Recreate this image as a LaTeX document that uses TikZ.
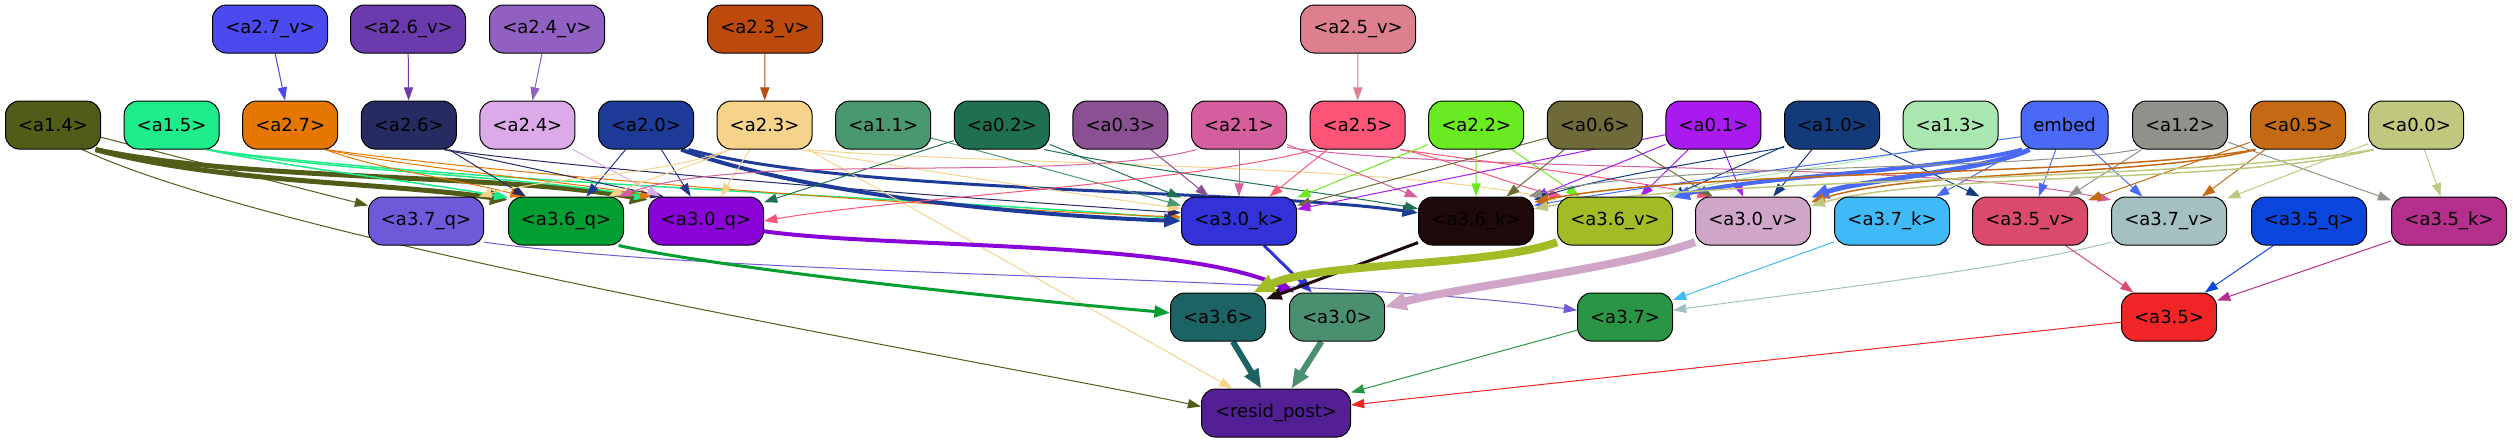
\documentclass[tikz,border=0pt]{standalone}
\usepackage{fontspec}
\setmainfont{DejaVu Sans}
\usetikzlibrary{arrows.meta}
\pgfdeclarelayer{bg}
\pgfsetlayers{bg,main}
\definecolor{ca27v}{HTML}{4A4AEE}\definecolor{ca26v}{HTML}{6B3AAC}\definecolor{ca24v}{HTML}{9060C2}
\definecolor{ca23v}{HTML}{BC4A0C}\definecolor{ca25v}{HTML}{DC808E}
\definecolor{ca14}{HTML}{525C18}\definecolor{ca15}{HTML}{1EEB8A}\definecolor{ca27}{HTML}{E57600}
\definecolor{ca26}{HTML}{262B62}\definecolor{ca24}{HTML}{DCAAE8}\definecolor{ca20}{HTML}{1F3B98}
\definecolor{ca23}{HTML}{F5D38A}\definecolor{ca11}{HTML}{4A9870}\definecolor{ca02}{HTML}{1E7050}
\definecolor{ca03}{HTML}{8A5092}\definecolor{ca21}{HTML}{D45F9C}\definecolor{ca25}{HTML}{FC5577}
\definecolor{ca22}{HTML}{6AEA20}\definecolor{ca06}{HTML}{6E6A3A}\definecolor{ca01}{HTML}{A81AEE}
\definecolor{ca10}{HTML}{133A7A}\definecolor{ca13}{HTML}{A8E8B0}\definecolor{cemb}{HTML}{4A6AF5}
\definecolor{ca12}{HTML}{8E928A}\definecolor{ca05}{HTML}{C46A14}\definecolor{ca00}{HTML}{C0C880}
\definecolor{ca37q}{HTML}{6E5AD8}\definecolor{ca36q}{HTML}{029E32}\definecolor{ca30q}{HTML}{8A04D8}
\definecolor{ca30k}{HTML}{3232D8}\definecolor{ca36k}{HTML}{1E0A0A}\definecolor{ca36v}{HTML}{A2BC28}
\definecolor{ca30v}{HTML}{D0A6C8}\definecolor{ca37k}{HTML}{40BAF6}\definecolor{ca35v}{HTML}{DA4A6A}
\definecolor{ca37v}{HTML}{A4C0C0}\definecolor{ca35q}{HTML}{0A46DC}\definecolor{ca35k}{HTML}{B4308C}
\definecolor{ca36}{HTML}{1C6464}\definecolor{ca30}{HTML}{4A9070}\definecolor{ca37}{HTML}{2A9645}
\definecolor{ca35}{HTML}{F02626}\definecolor{cres}{HTML}{522094}
\begin{document}
\begin{tikzpicture}[x=0.08pt,y=-0.08pt,
  nd/.style={draw=black, line width=0.08pt, rounded corners=1.12pt, minimum height=3.84pt, inner sep=0pt, text=black, font=\fontsize{1.44pt}{1.7pt}\selectfont},
  sn/.style={nd, minimum width=7.6pt},
  ln/.style={nd, minimum width=9.2pt},
  w1/.style={line width=0.12pt},
  w3/.style={line width=0.24pt},
  w4/.style={line width=0.32pt},
  w5/.style={line width=0.4pt},
  w6/.style={line width=0.48pt},
  w8/.style={line width=0.64pt},
  e/.style={draw=#1, line width=0.08pt, -{Triangle[length=0.96pt 1.2, width=0.64pt 1.2]}}]
\useasboundingbox (0,0) rectangle (2513,443);
% row 1
\node[ln,fill=ca27v] (a27v) at (270,29) {<a2.7\_v>};
\node[ln,fill=ca26v] (a26v) at (408,29) {<a2.6\_v>};
\node[ln,fill=ca24v] (a24v) at (547,29) {<a2.4\_v>};
\node[ln,fill=ca23v] (a23v) at (765,29) {<a2.3\_v>};
\node[ln,fill=ca25v] (a25v) at (1358,29) {<a2.5\_v>};
% row 2
\node[sn,fill=ca14] (a14) at (53,125) {<a1.4>};
\node[sn,fill=ca15] (a15) at (171.6,125) {<a1.5>};
\node[sn,fill=ca27] (a27) at (290.2,125) {<a2.7>};
\node[sn,fill=ca26] (a26) at (408.8,125) {<a2.6>};
\node[sn,fill=ca24] (a24) at (527.4,125) {<a2.4>};
\node[sn,fill=ca20] (a20) at (646,125) {<a2.0>};
\node[sn,fill=ca23] (a23) at (764.6,125) {<a2.3>};
\node[sn,fill=ca11] (a11) at (883.2,125) {<a1.1>};
\node[sn,fill=ca02] (a02) at (1001.8,125) {<a0.2>};
\node[sn,fill=ca03] (a03) at (1120.4,125) {<a0.3>};
\node[sn,fill=ca21] (a21) at (1239,125) {<a2.1>};
\node[sn,fill=ca25] (a25) at (1357.6,125) {<a2.5>};
\node[sn,fill=ca22] (a22) at (1476.2,125) {<a2.2>};
\node[sn,fill=ca06] (a06) at (1594.8,125) {<a0.6>};
\node[sn,fill=ca01] (a01) at (1713.4,125) {<a0.1>};
\node[sn,fill=ca10] (a10) at (1832,125) {<a1.0>};
\node[sn,fill=ca13] (a13) at (1950.6,125) {<a1.3>};
\node[nd,minimum width=6.96pt,fill=cemb] (emb) at (2064.5,125) {embed};
\node[sn,fill=ca12] (a12) at (2180,125) {<a1.2>};
\node[sn,fill=ca05] (a05) at (2298,125) {<a0.5>};
\node[sn,fill=ca00] (a00) at (2416,125) {<a0.0>};
% row 3
\node[ln,fill=ca37q] (a37q) at (426,221) {<a3.7\_q>};
\node[ln,fill=ca36q] (a36q) at (566,221) {<a3.6\_q>};
\node[ln,fill=ca30q] (a30q) at (706,221) {<a3.0\_q>};
\node[ln,fill=ca30k] (a30k) at (1239,221) {<a3.0\_k>};
\node[ln,fill=ca36k] (a36k) at (1476,221) {<a3.6\_k>};
\node[ln,fill=ca36v] (a36v) at (1615,221) {<a3.6\_v>};
\node[ln,fill=ca30v] (a30v) at (1753,221) {<a3.0\_v>};
\node[ln,fill=ca37k] (a37k) at (1892,221) {<a3.7\_k>};
\node[ln,fill=ca35v] (a35v) at (2030,221) {<a3.5\_v>};
\node[ln,fill=ca37v] (a37v) at (2169,221) {<a3.7\_v>};
\node[ln,fill=ca35q] (a35q) at (2309,221) {<a3.5\_q>};
\node[ln,fill=ca35k] (a35k) at (2449,221) {<a3.5\_k>};
% row 4
\node[sn,fill=ca36] (a36) at (1218,317) {<a3.6>};
\node[sn,fill=ca30] (a30) at (1337,317) {<a3.0>};
\node[sn,fill=ca37] (a37) at (1625,317) {<a3.7>};
\node[sn,fill=ca35] (a35) at (2169,317) {<a3.5>};
\node[nd,minimum width=11.92pt,fill=cres] (resid) at (1276,413) {<resid\_post>};
\begin{pgfonlayer}{bg}
% row1 -> row2
\draw[e=ca27v] (a27v) -- (a27);
\draw[e=ca26v] (a26v) -- (a26);
\draw[e=ca24v] (a24v) -- (a24);
\draw[e=ca23v] (a23v) -- (a23);
\draw[e=ca25v] (a25v) -- (a25);
% a1.4
\draw[e=ca14] (a14) -- (a37q.165);
\draw[e=ca14, w5] (a14.-30) to[out=-15,in=172,looseness=0.8] (a36q.160);
\draw[e=ca14, w5] (a14.-30) to[out=-12,in=170,looseness=0.7] (a30q.160);
\draw[e=ca14] (a14.-40) to[out=-25,in=168,looseness=0.5] (resid.175);
% a1.5
\draw[e=ca15, w1] (a15.-35) to[out=-12,in=170,looseness=0.8] (a36q.158);
\draw[e=ca15, w1] (a15.-35) to[out=-10,in=170,looseness=0.7] (a30q.158);
\draw[e=ca15, w1] (a15.-35) to[out=-8,in=175,looseness=0.6] (a30k.178);
% a2.7
\draw[e=ca27] (a27.-35) to[out=-20,in=165,looseness=0.8] (a36q.150);
\draw[e=ca27] (a27.-35) to[out=-12,in=170,looseness=0.7] (a30q.155);
\draw[e=ca27] (a27.-35) to[out=-8,in=178,looseness=0.6] (a30k.176);
% a2.6
\draw[e=ca26] (a26) -- (a36q);
\draw[e=ca26] (a26.-35) to[out=-12,in=168,looseness=0.7] (a30q.150);
\draw[e=ca26] (a26.-35) to[out=-8,in=176,looseness=0.6] (a30k.172);
% a2.4
\draw[e=ca24] (a24) -- (a30q);
% a2.0
\draw[e=ca20] (a20) -- (a36q);
\draw[e=ca20] (a20) -- (a30q);
\draw[e=ca20, w4] (a20.-35) to[out=-20,in=178,looseness=0.7] (a30k.180);
\draw[e=ca20, w3] (a20.-30) to[out=-15,in=172,looseness=0.6] (a36k.172);
% a2.3
\draw[e=ca23] (a23.215) to[out=200,in=15,looseness=0.8] (a37q.25);
\draw[e=ca23] (a23.215) to[out=205,in=25,looseness=0.8] (a36q.30);
\draw[e=ca23] (a23) -- (a30q);
\draw[e=ca23] (a23.-35) to[out=-10,in=172,looseness=0.7] (a30k.168);
\draw[e=ca23] (a23.-30) to[out=-5,in=168,looseness=0.6] (a36v.160);
\draw[e=ca23] (a23) -- (resid);
% a1.1, a0.2, a0.3
\draw[e=ca11] (a11) -- (a30k.165);
\draw[e=ca02] (a02) -- (a30q);
\draw[e=ca02] (a02) -- (a30k);
\draw[e=ca02] (a02.-30) to[out=-12,in=170,looseness=0.6] (a36k.168);
\draw[e=ca03] (a03) -- (a30k);
% a2.1
\draw[e=ca21] (a21) -- (a30k);
\draw[e=ca21] (a21.210) to[out=195,in=20,looseness=0.6] (a36q.25);
\draw[e=ca21] (a21) -- (a36k);
\draw[e=ca21] (a21.-25) to[out=-8,in=168,looseness=0.6] (a37v.160);
% a2.5
\draw[e=ca25] (a25) -- (a30k);
\draw[e=ca25] (a25.210) to[out=195,in=10,looseness=0.6] (a30q.0);
\draw[e=ca25] (a25.-30) to[out=-10,in=168,looseness=0.6] (a36v.155);
\draw[e=ca25] (a25.-30) to[out=-8,in=168,looseness=0.6] (a30v.150);
% a2.2
\draw[e=ca22] (a22) -- (a30k);
\draw[e=ca22] (a22) -- (a36k);
\draw[e=ca22] (a22) -- (a36v);
% a0.6
\draw[e=ca06] (a06) -- (a30k);
\draw[e=ca06] (a06) -- (a36k);
\draw[e=ca06] (a06) -- (a30v);
% a0.1
\draw[e=ca01] (a01) -- (a30k);
\draw[e=ca01] (a01) -- (a36k);
\draw[e=ca01] (a01) -- (a36v);
\draw[e=ca01] (a01) -- (a30v);
% a1.0
\draw[e=ca10] (a10.205) to[out=190,in=20,looseness=0.6] (a36k.20);
\draw[e=ca10] (a10) -- (a36v);
\draw[e=ca10] (a10) -- (a30v);
\draw[e=ca10] (a10) -- (a35v);
% a1.3
\draw[e=ca13] (a13.215) to[out=195,in=20,looseness=0.5] (a36v.25);
% embed
\draw[e=cemb, w4] (emb.210) to[out=195,in=15,looseness=0.6] (a36v.22);
\draw[e=cemb, w5] (emb.215) to[out=205,in=20,looseness=0.6] (a30v.22);
\draw[e=cemb] (emb) -- (a37k);
\draw[e=cemb] (emb) -- (a35v);
\draw[e=cemb] (emb) -- (a37v);
\draw[e=cemb] (emb.195) to[out=188,in=10,looseness=0.6] (a36k.15);
% a1.2
\draw[e=ca12] (a12.210) to[out=190,in=15,looseness=0.55] (a36k.25);
\draw[e=ca12] (a12) -- (a35v);
\draw[e=ca12] (a12) -- (a35k);
% a0.5
\draw[e=ca05, w1] (a05.210) to[out=190,in=12,looseness=0.55] (a36k.18);
\draw[e=ca05, w1] (a05.210) to[out=195,in=18,looseness=0.6] (a30v.18);
\draw[e=ca05] (a05) -- (a35v);
\draw[e=ca05] (a05) -- (a37v);
% a0.0
\draw[e=ca00, w1] (a00.210) to[out=190,in=10,looseness=0.55] (a36k.12);
\draw[e=ca00, w1] (a00.210) to[out=195,in=15,looseness=0.6] (a30v.15);
\draw[e=ca00] (a00) -- (a37v);
\draw[e=ca00] (a00) -- (a35k);
% row 3 -> row 4
\draw[e=ca37q] (a37q.-20) to[out=-8,in=172,looseness=0.6] (a37.172);
\draw[e=ca36q, w3] (a36q.-25) to[out=-12,in=175,looseness=0.6] (a36.175);
\draw[e=ca30q, w4] (a30q.-10) to[out=-8,in=155,looseness=0.6] (a30.150);
\draw[e=ca30k, w3] (a30k) -- (a30);
\draw[e=ca36k, w3] (a36k) -- (a36);
\draw[e=ca36v, w8] (a36v.200) to[out=200,in=25,looseness=0.6] (a36.35);
\draw[e=ca30v, w8] (a30v.200) to[out=200,in=15,looseness=0.6] (a30.12);
\draw[e=ca37k] (a37k) -- (a37);
\draw[e=ca37v] (a37v.200) to[out=195,in=8,looseness=0.6] (a37.8);
\draw[e=ca35v] (a35v) -- (a35);
\draw[e=ca35q] (a35q) -- (a35);
\draw[e=ca35k] (a35k) -- (a35);
% row 4 -> resid
\draw[e=ca36, w6] (a36) -- (resid);
\draw[e=ca30, w6] (a30) -- (resid);
\draw[e=ca37] (a37) -- (resid);
\draw[e=ca35] (a35) -- (resid);
\end{pgfonlayer}
\end{tikzpicture}
\end{document}
